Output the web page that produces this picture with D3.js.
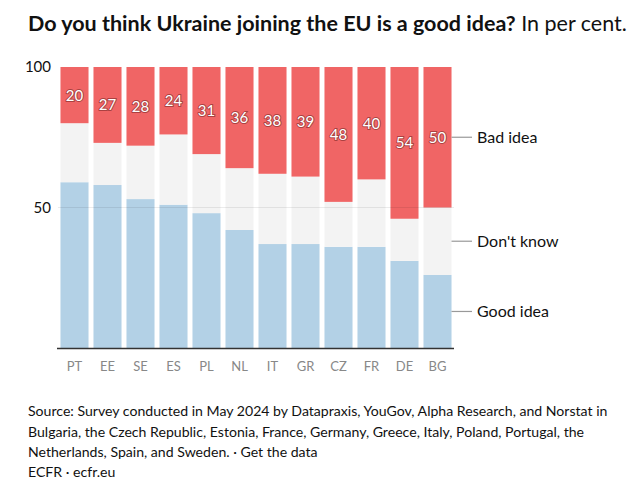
<!DOCTYPE html>
<html><head><meta charset="utf-8">
<script src="https://cdn.jsdelivr.net/npm/d3@7"></script>
<style>body{margin:0;background:#fff;} svg{font-family:Lato,"Open Sans",sans-serif;display:block;}</style>
</head><body><svg id="c" width="640" height="492"></svg>
<script>
const countries = ["PT","EE","SE","ES","PL","NL","IT","GR","CZ","FR","DE","BG"];
const goodIdea = [59,58,53,51,48,42,37,37,36,36,31,26];
const dontKnow = [21,15,19,25,21,22,25,24,16,24,15,24];
const badIdea  = [20,27,28,24,31,36,38,39,48,40,54,50];
const seriesKeys = ["good","dk","bad"];
const seriesNames = ["Good idea","Don't know","Bad idea"];
const seriesColors = ["#b3d1e6","#f3f3f3","#f06565"];
const yTicks = [50,100];
const titleBold = "Do you think Ukraine joining the EU is a good idea?";
const titleRest = " In per cent.";
const footerLines = [
  "Source: Survey conducted in May 2024 by Datapraxis, YouGov, Alpha Research, and Norstat in",
  "Bulgaria, the Czech Republic, Estonia, France, Germany, Greece, Italy, Poland, Portugal, the",
  "Netherlands, Spain, and Sweden. · Get the data",
  "ECFR · ecfr.eu"
];

const rows = countries.map((c,i)=>({country:c, good:goodIdea[i], dk:dontKnow[i], bad:badIdea[i]}));
const svg = d3.select("#c");

const x = d3.scaleBand().domain(countries).range([58,454]).paddingInner(0.15).paddingOuter(0.075);
const y = d3.scaleLinear().domain([0,100]).range([348,67]);

const stacked = d3.stack().keys(seriesKeys)(rows);

// title
const title = svg.append("text").attr("x",28).attr("y",31).attr("fill","#111");
title.append("tspan").attr("font-weight","bold").attr("font-size",20).text(titleBold);
title.append("tspan").attr("font-size",20).text(titleRest);
// fit title width to ~599px
const tw = title.node().getComputedTextLength();
const fs = 20*599/tw;
title.selectAll("tspan").attr("font-size",fs);

// bars
const g = svg.append("g");
stacked.forEach((s,si)=>{
  g.selectAll(null).data(s).enter().append("rect")
    .attr("x",d=>x(d.data.country))
    .attr("width",x.bandwidth())
    .attr("y",d=>y(d[1]))
    .attr("height",d=>y(d[0])-y(d[1]))
    .attr("fill",seriesColors[si]);
});

// gridline at 50
svg.append("g").selectAll("line").data(yTicks.filter(t=>t!==100)).enter().append("line")
  .attr("x1",58).attr("x2",454).attr("y1",d=>y(d)).attr("y2",d=>y(d))
  .attr("stroke","rgba(0,0,0,0.08)").attr("stroke-width",1);

// y tick labels
svg.append("g").selectAll("text").data(yTicks).enter().append("text")
  .attr("x",51).attr("y",d=>y(d)).attr("dy","0.35em").attr("text-anchor","end")
  .attr("font-size",15).attr("fill","#111").text(d=>d);

// value labels
const badStack = stacked[2];
svg.append("g").selectAll("text").data(badStack).enter().append("text")
  .attr("x",d=>x(d.data.country)+x.bandwidth()/2)
  .attr("y",d=>(y(d[0])+y(d[1]))/2)
  .attr("dy","0.36em").attr("text-anchor","middle")
  .attr("font-size",15).attr("fill","#fff")
  .attr("stroke","rgba(80,20,20,0.45)").attr("stroke-width",2).attr("paint-order","stroke")
  .text(d=>d.data.bad);

// baseline axis
const xAxis = d3.axisBottom(x).tickSize(0).tickPadding(14);
const ax = svg.append("g").attr("transform",`translate(0,${y(0)})`).call(xAxis);
ax.select(".domain").remove();
ax.selectAll("text").attr("font-size",13).attr("fill","#888").attr("font-family","Lato,'Open Sans',sans-serif");
svg.append("line").attr("x1",57).attr("x2",454).attr("y1",y(0)+0.5).attr("y2",y(0)+0.5)
  .attr("stroke","#333").attr("stroke-width",1.5);

// legend labels at last bar
const last = countries.length-1;
const lg = svg.append("g");
stacked.forEach((s,si)=>{
  const d = s[last];
  const cy = (y(d[0])+y(d[1]))/2;
  lg.append("line").attr("x1",x(countries[last])+x.bandwidth()).attr("x2",472)
    .attr("y1",cy).attr("y2",cy).attr("stroke","#999").attr("stroke-width",1.2);
  lg.append("text").attr("x",477).attr("y",cy).attr("dy","0.35em")
    .attr("font-size",16).attr("fill","#111").text(seriesNames[si]);
});

// footer
const ft = svg.append("g");
const fyy = [416,436.5,457,477];
footerLines.forEach((t,i)=>{
  ft.append("text").attr("x",28).attr("y",fyy[i]).attr("font-size",14).attr("fill","#111").text(t);
});
const fw = ft.select("text").node().getComputedTextLength();
ft.selectAll("text").attr("font-size",14*580/fw);
</script>
</body></html>
